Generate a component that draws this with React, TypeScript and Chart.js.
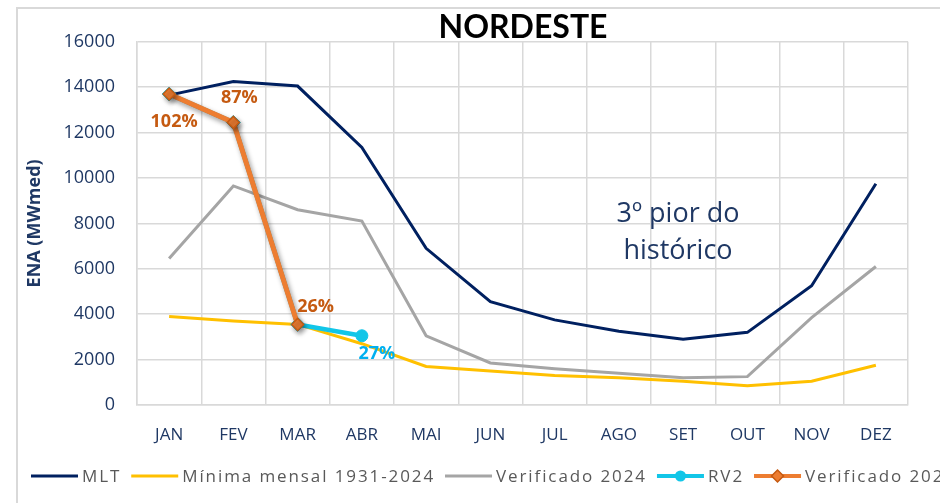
import React, { useEffect, useRef } from 'react';
import { Chart, registerables } from 'chart.js';

Chart.register(...registerables);

// ---- data ----
const months = ['JAN', 'FEV', 'MAR', 'ABR', 'MAI', 'JUN', 'JUL', 'AGO', 'SET', 'OUT', 'NOV', 'DEZ'];
const mlt = [13650, 14250, 14050, 11350, 6900, 4550, 3750, 3250, 2900, 3200, 5250, 9750];
const minimaMensal = [3900, 3700, 3550, 2700, 1700, 1500, 1300, 1200, 1050, 850, 1050, 1750];
const verificado2024 = [6450, 9650, 8600, 8100, 3050, 1850, 1600, 1400, 1200, 1250, 3850, 6100];
const rv2 = [13700, 12450, 3550, 3050, null, null, null, null, null, null, null, null];
const verificado2025 = [13700, 12450, 3550, null, null, null, null, null, null, null, null, null];
const pctVerificado2025 = ['102%', '87%', '26%'];
const pctRv2 = [null, null, null, '27%'];
const yTicks = [0, 2000, 4000, 6000, 8000, 10000, 12000, 14000, 16000];
const titleText = 'NORDESTE';
const yTitle = 'ENA (MWmed)';
const noteLines = ['3º pior do', 'histórico'];

const W = 1010;
const H = 494;
const NAVY = '#1F3864';

const labelOffsets: Record<string, [number, number]> = {
  '4-0': [5, 28],
  '4-1': [6, -25],
  '4-2': [18, -18],
  '3-3': [15, 18],
};

const customPlugin = {
  id: 'custom',
  beforeDatasetDraw(chart: any, args: any) {
    if (args.index === 4) {
      const ctx = chart.ctx;
      ctx.save();
      ctx.shadowColor = 'rgba(0,0,0,0.4)';
      ctx.shadowBlur = 5;
      ctx.shadowOffsetX = 2;
      ctx.shadowOffsetY = 3;
    }
  },
  afterDatasetDraw(chart: any, args: any) {
    if (args.index === 4) chart.ctx.restore();
  },
  afterDatasetsDraw(chart: any) {
    const ctx = chart.ctx;
    const xs = chart.scales.x;
    const ys = chart.scales.y;
    ctx.save();
    ctx.textAlign = 'center';
    ctx.textBaseline = 'middle';
    ctx.font = 'bold 18px "Open Sans"';
    const drawSet = (dsIndex: number, values: (number | null)[], labels: (string | null)[], color: string) => {
      labels.forEach((lab, i) => {
        const v = values[i];
        if (!lab || v == null) return;
        const off = labelOffsets[dsIndex + '-' + i] || [0, -15];
        ctx.fillStyle = color;
        ctx.fillText(lab, xs.getPixelForValue(i) + off[0], ys.getPixelForValue(v) + off[1]);
      });
    };
    drawSet(4, verificado2025, pctVerificado2025, '#C55A11');
    drawSet(3, rv2, pctRv2, '#00B0F0');

    // annotation
    ctx.font = '27px "Open Sans"';
    ctx.fillStyle = NAVY;
    const nx = xs.getPixelForValue(7.92);
    const ny = ys.getPixelForValue(7600);
    ctx.fillText(noteLines[0], nx, ny - 18);
    ctx.fillText(noteLines[1], nx, ny + 19);
    ctx.restore();
  },
  afterDraw(chart: any) {
    const ctx = chart.ctx;
    ctx.save();
    ctx.font = '17px "Open Sans"';
    (ctx as any).letterSpacing = '1.9px';
    ctx.textBaseline = 'middle';
    ctx.textAlign = 'left';
    let x = 13;
    const y = 467;
    chart.data.datasets.forEach((ds: any) => {
      ctx.strokeStyle = ds.borderColor;
      ctx.lineWidth = Math.min(ds.borderWidth, 4);
      ctx.beginPath();
      ctx.moveTo(x, y);
      ctx.lineTo(x + 47, y);
      ctx.stroke();
      const cx = x + 23.5;
      if (ds.legendMarker === 'circle') {
        ctx.fillStyle = ds.borderColor;
        ctx.beginPath();
        ctx.arc(cx, y, 5.5, 0, Math.PI * 2);
        ctx.fill();
      } else if (ds.legendMarker === 'diamond') {
        ctx.fillStyle = ds.pointBackgroundColor;
        ctx.strokeStyle = ds.pointBorderColor;
        ctx.lineWidth = 1.5;
        ctx.beginPath();
        ctx.moveTo(cx, y - 6);
        ctx.lineTo(cx + 6, y);
        ctx.lineTo(cx, y + 6);
        ctx.lineTo(cx - 6, y);
        ctx.closePath();
        ctx.fill();
        ctx.stroke();
      }
      x += 51;
      ctx.fillStyle = '#595959';
      ctx.fillText(ds.label, x, y + 1);
      x += ctx.measureText(ds.label).width + 10;
    });
    ctx.restore();
  },
};

export default function App() {
  const ref = useRef<HTMLCanvasElement>(null);
  useEffect(() => {
    if (!ref.current) return;
    const chart = new Chart(ref.current, {
      type: 'line',
      data: {
        labels: months,
        datasets: [
          {
            label: 'MLT',
            data: mlt,
            borderColor: '#002060',
            borderWidth: 3,
            pointRadius: 0,
            order: 4,
          } as any,
          {
            label: 'Mínima mensal 1931-2024',
            data: minimaMensal,
            borderColor: '#FFC000',
            borderWidth: 3,
            pointRadius: 0,
            order: 3,
          },
          {
            label: 'Verificado 2024',
            data: verificado2024,
            borderColor: '#A5A5A5',
            borderWidth: 3,
            pointRadius: 0,
            order: 5,
          },
          {
            label: 'RV2',
            data: rv2,
            borderColor: '#12C6E8',
            backgroundColor: '#12C6E8',
            borderWidth: 4.5,
            pointRadius: [7, 7, 7, 6],
            pointStyle: ['rectRot', 'rectRot', 'rectRot', 'circle'],
            pointBackgroundColor: '#12C6E8',
            pointBorderColor: '#12C6E8',
            pointBorderWidth: 1,
            order: 1,
            legendMarker: 'circle',
          },
          {
            label: 'Verificado 2025',
            data: verificado2025,
            borderColor: '#ED7D31',
            backgroundColor: '#ED7D31',
            borderWidth: 5,
            pointRadius: 6,
            pointStyle: 'rectRot',
            pointBackgroundColor: '#ED7D31',
            pointBorderColor: '#C55A11',
            pointBorderWidth: 1.5,
            order: 0,
            legendMarker: 'diamond',
          },
        ] as any,
      },
      options: {
        responsive: false,
        animation: false,
        events: [],
        layout: { padding: { left: 0, right: 0, top: 0.2, bottom: 52 } },
        plugins: {
          legend: { display: false },
          tooltip: { enabled: false },
          title: {
            display: true,
            text: titleText,
            color: '#000000',
            font: { family: 'Lato', size: 32, weight: 'bold', lineHeight: 0.9 },
            padding: { top: 0, bottom: 0 },
          },
        },
        scales: {
          x: {
            type: 'category',
            offset: true,
            grid: { offset: true, color: '#D9D9D9', lineWidth: 1.5, drawTicks: false },
            border: { color: '#D9D9D9', width: 1.5 },
            ticks: {
              color: NAVY,
              font: { family: 'Open Sans', size: 17 },
              padding: 20,
              maxRotation: 0,
              autoSkip: false,
            },
            afterFit: (s: any) => { s.height = 46; },
          },
          y: {
            min: 0,
            max: 16000,
            afterBuildTicks: (s: any) => { s.ticks = yTicks.map((v) => ({ value: v })); },
            grid: { color: '#D9D9D9', lineWidth: 1.5, drawTicks: false },
            border: { color: '#D9D9D9', width: 1.5 },
            ticks: {
              color: NAVY,
              font: { family: 'Open Sans', size: 18 },
              padding: 22,
              callback: (v: any) => String(v),
            },
            title: {
              display: true,
              text: yTitle,
              color: NAVY,
              font: { family: 'Open Sans', size: 18, weight: 'bold', lineHeight: 1.2 },
              padding: { top: 6, bottom: 0 },
            },
            afterFit: (s: any) => { s.width = 119; },
          },
          yRight: {
            position: 'right',
            display: true,
            min: 0,
            max: 16000,
            grid: { display: false, drawOnChartArea: false, drawTicks: false },
            border: { display: false },
            ticks: { display: false },
            afterFit: (s: any) => { s.width = 120; },
          },
        },
      },
      plugins: [customPlugin],
    });
    return () => chart.destroy();
  }, []);

  return (
    <div style={{ position: 'fixed', left: 0, top: 0, width: 940, height: 503, overflow: 'hidden', background: '#ffffff' }}>
      <div style={{ position: 'absolute', left: 16, top: 7, width: 2000, height: 1000, border: '2px solid #D9D9D9', boxSizing: 'border-box' }} />
      <canvas ref={ref} width={W} height={H} style={{ position: 'absolute', left: 18, top: 9, width: W, height: H, display: 'block' }} />
    </div>
  );
}
